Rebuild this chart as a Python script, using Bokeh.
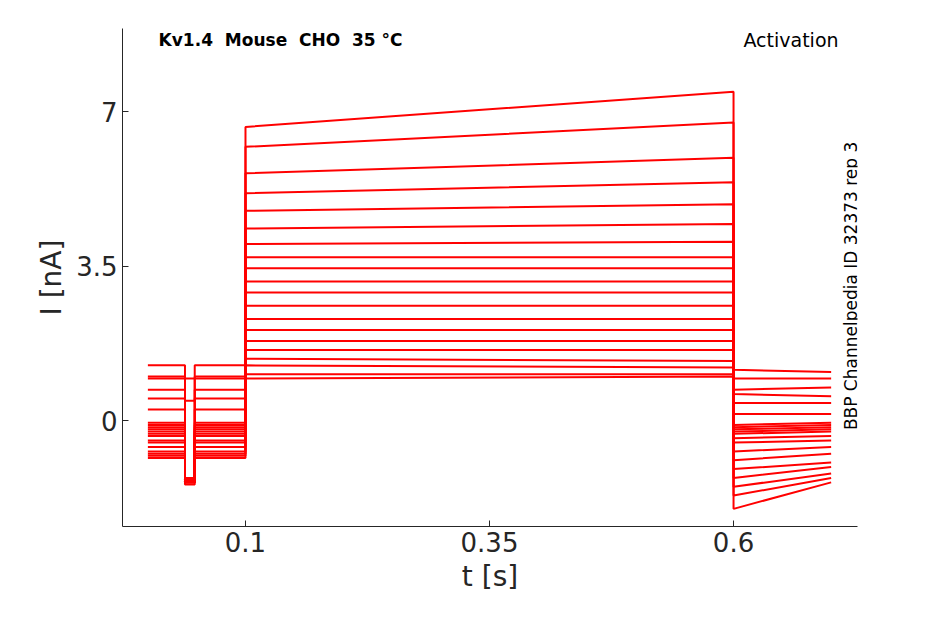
from bokeh.plotting import figure
from bokeh.models import FixedTicker, Label, Range1d
from bokeh.embed import file_html
from bokeh.resources import INLINE
import math

# per-trace values (nA)
hold = [1.25, 1.0, 0.95, 0.7, 0.5, 0.25, -0.05, -0.1, -0.15, -0.2, -0.25, -0.3, -0.35, -0.45, -0.5, -0.6, -0.7, -0.75, -0.8, -0.85]
dip = [0.95, 0.45, -1.3, -1.3, -1.3, -1.3, -1.3, -1.3, -1.3, -1.35, -1.35, -1.35, -1.35, -1.4, -1.4, -1.4, -1.4, -1.4, -1.4, -1.45]
step_start = [6.65, 6.2, 5.6, 5.15, 4.75, 4.35, 4.0, 3.7, 3.45, 3.15, 2.9, 2.6, 2.3, 2.05, 1.8, 1.6, 1.4, 1.25, 1.05, 0.95]
step_end = [7.45, 6.75, 5.95, 5.4, 4.9, 4.45, 4.05, 3.7, 3.45, 3.15, 2.9, 2.6, 2.3, 2.05, 1.8, 1.6, 1.35, 1.2, 1.05, 1.0]
tail_start = [1.15, 0.95, 0.7, 0.6, 0.4, 0.15, -0.1, -0.15, -0.2, -0.25, -0.3, -0.4, -0.5, -0.7, -0.9, -1.1, -1.3, -1.5, -1.7, -2.0]
tail_end = [1.1, 0.95, 0.75, 0.55, 0.4, 0.15, -0.05, -0.1, -0.15, -0.2, -0.25, -0.35, -0.45, -0.6, -0.75, -0.95, -1.05, -1.2, -1.3, -1.4]
t_on, t_off, t_end = 0.1, 0.6, 0.7
p_on, p_off = 0.038, 0.048

p = figure(width=928, height=610, output_backend="svg", toolbar_location=None,
           x_range=Range1d(-0.026, 0.727), y_range=Range1d(-2.4, 8.88),
           min_border_left=122, min_border_right=71, min_border_top=28, min_border_bottom=84)
p.outline_line_color = None
p.grid.visible = False

for i in range(len(hold)):
    h = hold[i]
    xs = [0.0, p_on, p_on, p_off, p_off, t_on, t_on, t_off, t_off, t_end]
    ys = [h, h, dip[i], dip[i], h, h, step_start[i], step_end[i], tail_start[i], tail_end[i]]
    p.line(xs, ys, line_color="red", line_width=2)

for ax in (p.xaxis[0], p.yaxis[0]):
    ax.major_label_text_font_size = "26px"
    ax.axis_label_text_font_size = "28px"
    ax.axis_label_text_font_style = "normal"
    ax.major_label_text_color = "#262626"
    ax.axis_label_text_color = "#262626"
    ax.axis_line_color = "#262626"
    ax.major_tick_line_color = "#262626"
    ax.minor_tick_line_color = None
    ax.major_tick_in = 6
    ax.major_tick_out = 0
    ax.major_label_text_font = "DejaVu Sans"
    ax.axis_label_text_font = "DejaVu Sans"
p.xaxis.ticker = FixedTicker(ticks=[0.1, 0.35, 0.6])
p.yaxis.ticker = FixedTicker(ticks=[0, 3.5, 7])
p.xaxis.major_label_overrides = {0.1: "0.1", 0.35: "0.35", 0.6: "0.6"}
p.yaxis.major_label_overrides = {0: "0", 3.5: "3.5", 7: "7"}
p.xaxis.axis_label = "t [s]"
p.yaxis.axis_label = "I [nA]"

p.add_layout(Label(x=0.011, y=8.61, text="Kv1.4\u00a0\u00a0Mouse\u00a0\u00a0CHO\u00a0\u00a035 °C", text_font="DejaVu Sans",
                   text_font_style="bold", text_font_size="17px", text_baseline="middle", text_color="black"))
p.add_layout(Label(x=0.7076, y=8.61, text="Activation", text_font="DejaVu Sans",
                   text_font_size="19px", text_baseline="middle", text_align="right", text_color="black"))
p.add_layout(Label(x=0.72, y=3.05, text="BBP Channelpedia ID 32373 rep 3", text_font="DejaVu Sans",
                   text_font_size="17px", text_baseline="middle", text_align="center",
                   angle=math.pi / 2, text_color="black"))

open("out.html", "w").write(file_html(p, INLINE))
